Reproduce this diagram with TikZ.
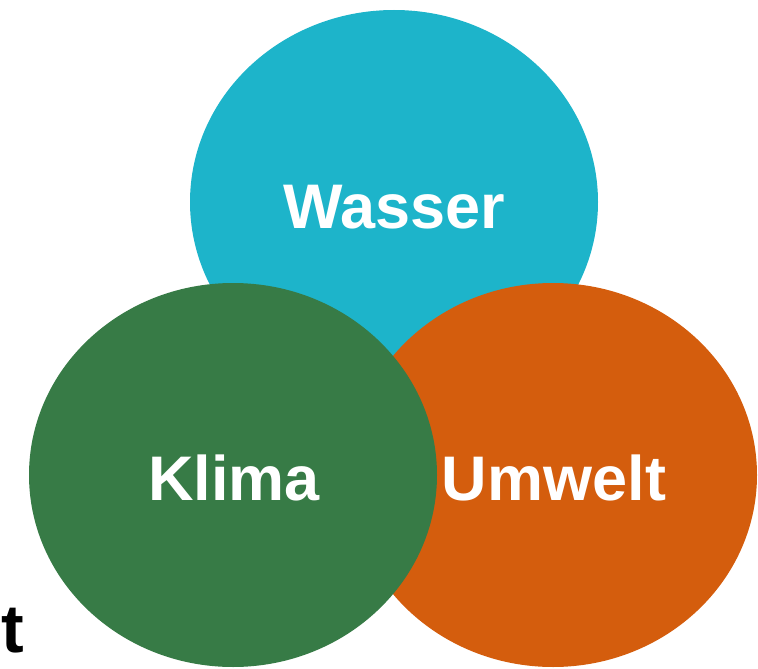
\documentclass[tikz,border=0pt]{standalone}
\usepackage{fontspec}
\setmainfont{Liberation Sans}
\usetikzlibrary{shapes.geometric}
\definecolor{wassercol}{HTML}{1DB4CA}
\definecolor{klimacol}{HTML}{377B46}
\definecolor{umweltcol}{HTML}{D45D0D}
\begin{document}
\begin{tikzpicture}[x=1pt,y=-1pt,
  blob/.style={ellipse,inner sep=0pt,minimum width=408pt,minimum height=384pt,draw=none},
  lbl/.style={anchor=base,text=white,font=\fontsize{63}{63}\selectfont\bfseries,inner sep=0pt}]
\useasboundingbox (0,0) rectangle (758,669);
\node[blob,fill=wassercol] (wasser) at (394,202) {};
\node[lbl] (wassertext) at (394,228) {Wasser};
\node[blob,fill=umweltcol] (umwelt) at (553,475) {};
\node[lbl] (umwelttext) at (554,500) {Umwelt};
\node[blob,fill=klimacol] (klima) at (233,475) {};
\node[lbl] (klimatext) at (234,500) {Klima};
\node[anchor=base west,inner sep=0pt,font=\fontsize{68}{68}\selectfont\bfseries] (tletter) at (1,652) {t};
\end{tikzpicture}
\end{document}
